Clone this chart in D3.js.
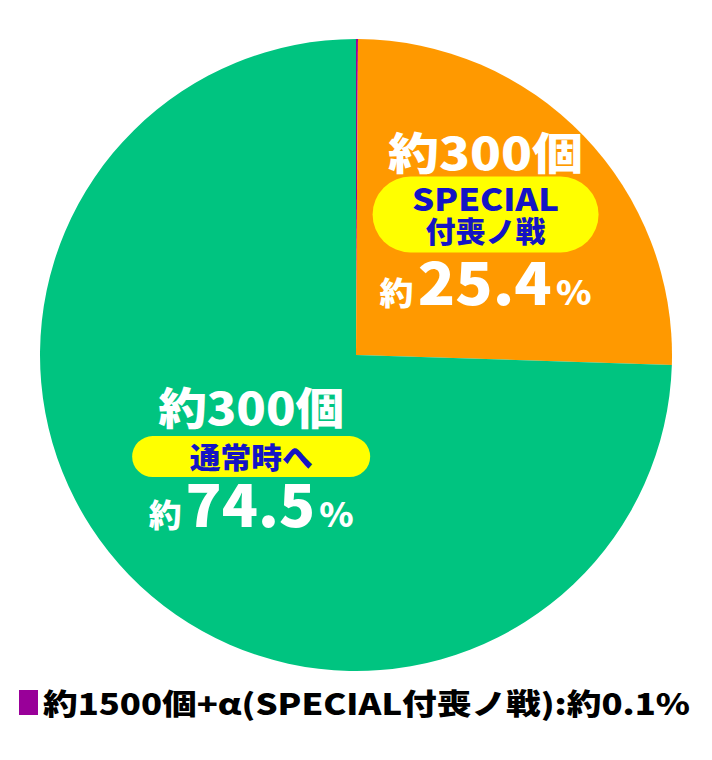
<!DOCTYPE html>
<html>
<head>
<meta charset="utf-8">
<script src="https://cdn.jsdelivr.net/npm/d3@7"></script>
<style>
  body { margin: 0; background: #fff; }
  text { font-family: "Noto Sans CJK JP", "Noto Sans", sans-serif; font-weight: 900; }
</style>
</head>
<body>
<div id="vis"></div>
<script>
// slice data, clockwise from 12 o'clock
var categories = ["SPECIAL付喪ノ戦(1500個+α)", "SPECIAL付喪ノ戦", "通常時へ"];
var shares = [0.1, 25.4, 74.5];
var countLabels = ["約1500個+α", "約300個", "約300個"];
var destLines = [["SPECIAL付喪ノ戦"], ["SPECIAL", "付喪ノ戦"], ["通常時へ"]];
var colors = ["#990099", "#ff9900", "#00c480"];
var legendText = "約1500個+α(SPECIAL付喪ノ戦):約0.1%";

var width = 712, height = 760;
var cx = 356, cy = 355, radius = 316;

var svg = d3.select("#vis")
    .append("svg")
    .attr("width", width)
    .attr("height", height);

var data = shares.map(function(v, i) {
  return {share: v, cat: categories[i], count: countLabels[i], dest: destLines[i], color: colors[i]};
});

var pie = d3.pie().sort(null).value(function(d) { return d.share; });
var arc = d3.arc().innerRadius(0).outerRadius(radius);

var g = svg.append("g").attr("transform", "translate(" + cx + "," + cy + ")");

var arcs = pie(data);

g.selectAll("path.slice")
    .data(arcs)
    .enter()
    .append("path")
    .attr("class", "slice")
    .attr("d", arc)
    .attr("fill", function(d) { return d.data.color; });

////////// labels //////////
// label layout for the two big slices (pill size, line offsets)
var labelLayout = {
  1: {r: 191, nudge: [-8, -8], pillW: 226, pillH: 76, countDy: -45, countW: 195, countSize: 44,
      pctDy: 90, pctW: 212, destSize: [31, 29], destDy: [-4, 28], destW: [147, 120]},
  2: {r: 146, nudge: [0, 0], pillW: 238, pillH: 41, countDy: -32, countW: 186, countSize: 44,
      pctDy: 70, pctW: 205, destSize: [29], destDy: [12], destW: [123]}
};

arcs.forEach(function(a, i) {
  var L = labelLayout[i];
  if (!L) return;
  var mid = (a.startAngle + a.endAngle) / 2;
  var lx = Math.sin(mid) * L.r + L.nudge[0], ly = -Math.cos(mid) * L.r + L.nudge[1];
  var lg = g.append("g").attr("transform", "translate(" + lx + "," + ly + ")");

  // count line
  lg.append("text")
      .attr("text-anchor", "middle")
      .attr("y", L.countDy)
      .attr("fill", "#fff")
      .attr("font-size", L.countSize)
      .attr("textLength", L.countW)
      .attr("lengthAdjust", "spacingAndGlyphs")
      .text(a.data.count);

  // yellow pill
  lg.append("rect")
      .attr("x", -L.pillW / 2)
      .attr("y", -L.pillH / 2)
      .attr("width", L.pillW)
      .attr("height", L.pillH)
      .attr("rx", L.pillH / 2)
      .attr("fill", "#ffff00");

  a.data.dest.forEach(function(line, j) {
    lg.append("text")
        .attr("text-anchor", "middle")
        .attr("y", L.destDy[j])
        .attr("fill", "#1414c4")
        .attr("font-size", L.destSize[j])
        .attr("textLength", L.destW[j])
        .attr("lengthAdjust", "spacingAndGlyphs")
        .text(line);
  });

  // percent line
  var pct = lg.append("text")
      .attr("text-anchor", "middle")
      .attr("y", L.pctDy)
      .attr("fill", "#fff")
      .attr("textLength", L.pctW)
      .attr("lengthAdjust", "spacingAndGlyphs");
  pct.append("tspan").attr("font-size", 32).text("約");
  pct.append("tspan").attr("font-size", 58).attr("dx", 4).text(d3.format(".1f")(a.data.share));
  pct.append("tspan").attr("font-size", 34).attr("dx", 4).text("%");
});

////////// legend //////////
var legend = svg.append("g").attr("transform", "translate(19,690)");
legend.append("rect")
    .attr("width", 19)
    .attr("height", 25)
    .attr("fill", colors[0]);
legend.append("text")
    .attr("x", 24)
    .attr("y", 25)
    .attr("fill", "#000")
    .attr("font-size", 29)
    .attr("textLength", 647)
    .attr("lengthAdjust", "spacingAndGlyphs")
    .text(legendText);
</script>
</body>
</html>
